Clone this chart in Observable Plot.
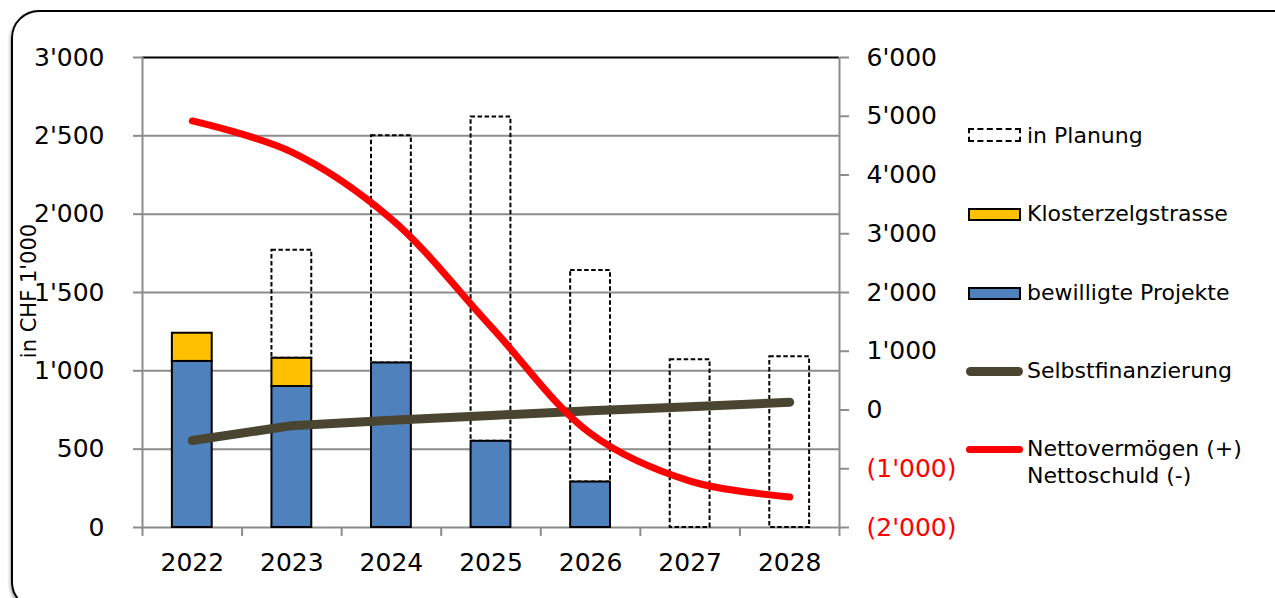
<!DOCTYPE html>
<html>
<head>
<meta charset="utf-8">
<script src="https://cdn.jsdelivr.net/npm/d3@7"></script>
<script src="https://cdn.jsdelivr.net/npm/@observablehq/plot@0.6"></script>
<style>
  html, body { margin: 0; padding: 0; background: #fff; overflow: hidden; }
  body { width: 1275px; height: 598px; position: relative; font-family: "DejaVu Sans", Verdana, sans-serif; }
  #frame { position: absolute; left: 11px; top: 10px; width: 1290px; height: 600px; border: 2px solid #000; border-radius: 28px; box-sizing: border-box; box-shadow: -1px 2px 3px rgba(0,0,0,0.35); }
  #chart { position: absolute; left: 0; top: 0; }
  #ylabel { position: absolute; left: 29px; top: 291px; transform: translate(-50%, -50%) rotate(-90deg); font-size: 21px; white-space: nowrap; color: #000; }
  .leg { position: absolute; left: 0; top: 0; font-size: 22px; color: #000; }
  .sw { position: absolute; box-sizing: border-box; }
  .lt { position: absolute; left: 1027px; white-space: nowrap; line-height: 27px; }
</style>
</head>
<body>
<div id="frame"></div>
<div id="chart"></div>
<div id="ylabel">in CHF 1'000</div>
<div class="leg">
  <div class="sw" style="left:968px;top:128px;width:53px;height:14px;border:2px dashed #000;background:#fff;"></div>
  <div class="lt" style="top:122px;">in Planung</div>
  <div class="sw" style="left:968px;top:208px;width:53px;height:13px;border:2px solid #000;background:#FFC000;"></div>
  <div class="lt" style="top:200px;">Klosterzelgstrasse</div>
  <div class="sw" style="left:968px;top:287px;width:53px;height:13px;border:2px solid #000;background:#4F81BD;"></div>
  <div class="lt" style="top:279px;">bewilligte Projekte</div>
  <div class="sw" style="left:966px;top:367px;width:57px;height:9px;border-radius:5px;background:#4A4530;"></div>
  <div class="lt" style="top:357px;">Selbstfinanzierung</div>
  <div class="sw" style="left:966px;top:446px;width:57px;height:7px;border-radius:4px;background:#FF0000;"></div>
  <div class="lt" style="top:435px;">Nettovermögen (+)<br>Nettoschuld (-)</div>
</div>
<script>
// ---- data ----
const years = [2022, 2023, 2024, 2025, 2026, 2027, 2028];
const bewilligt = [1060, 900, 1050, 550, 290, 0, 0];          // bewilligte Projekte
const kloster = [180, 180, 0, 0, 0, 0, 0];                    // Klosterzelgstrasse
const planung = [0, 690, 1450, 2070, 1350, 1070, 1090];       // in Planung (stacked on top)
const selbst = [555, 650, 685, 715, 745, 770, 800];           // Selbstfinanzierung (left axis)
const netto = [4920, 4390, 3250, 1420, -400, -1210, -1480];   // Nettovermögen/-schuld (right axis)
const leftTicks = [0, 500, 1000, 1500, 2000, 2500, 3000];
const rightTicks = [-2000, -1000, 0, 1000, 2000, 3000, 4000, 5000, 6000];

// ---- helpers ----
const loc = d3.formatLocale({decimal: ".", thousands: "'", grouping: [3], currency: ["", ""]});
const fmt = loc.format(",d");
const L = v => (v + 2000) * 3000 / 8000;           // right-axis value -> left-axis units
const R = p => Math.round(p * 8000 / 3000 - 2000); // inverse
const rfmt = p => { const v = R(p); return v < 0 ? "(" + fmt(-v) + ")" : fmt(v); };

const rows = years.map((year, i) => ({
  year, bew: bewilligt[i], klo: kloster[i], plan: planung[i], selbst: selbst[i], netto: netto[i]
}));
const bounds = years.map(y => y - 0.5).concat([years[years.length - 1] + 0.5]);
const hw = 0.2;

const chart = Plot.plot({
  width: 1275,
  height: 598,
  marginLeft: 142,
  marginRight: 436,
  marginTop: 57,
  marginBottom: 71,
  style: {fontFamily: "DejaVu Sans, Verdana, sans-serif", fontSize: "25px", background: "transparent", overflow: "visible"},
  x: {type: "linear", domain: [bounds[0], bounds[bounds.length - 1]]},
  y: {domain: [0, 3000]},
  marks: [
    Plot.ruleY(leftTicks.filter(t => t > 0 && t < 3000), {stroke: "#8c8c8c", strokeWidth: 2}),
    Plot.ruleY([3000], {stroke: "#000", strokeWidth: 2}),
    Plot.ruleY([0], {stroke: "#8c8c8c", strokeWidth: 2}),
    Plot.ruleX([bounds[0], bounds[bounds.length - 1]], {stroke: "#8c8c8c", strokeWidth: 2}),
    // in Planung (dashed outline)
    Plot.rectY(rows.filter(d => d.plan > 0), {
      x1: d => d.year - hw, x2: d => d.year + hw,
      y1: d => d.bew + d.klo, y2: d => d.bew + d.klo + d.plan,
      fill: "none", stroke: "#000", strokeWidth: 2, strokeDasharray: "4.5,2.5"
    }),
    // bewilligte Projekte
    Plot.rectY(rows.filter(d => d.bew > 0), {
      x1: d => d.year - hw, x2: d => d.year + hw, y1: 0, y2: d => d.bew,
      fill: "#4F81BD", stroke: "#000", strokeWidth: 2
    }),
    // Klosterzelgstrasse
    Plot.rectY(rows.filter(d => d.klo > 0), {
      x1: d => d.year - hw, x2: d => d.year + hw, y1: d => d.bew, y2: d => d.bew + d.klo,
      fill: "#FFC000", stroke: "#000", strokeWidth: 2
    }),
    // Selbstfinanzierung
    Plot.line(rows, {x: "year", y: "selbst", stroke: "#4A4530", strokeWidth: 9, strokeLinecap: "round", strokeLinejoin: "round"}),
    // Nettovermögen / Nettoschuld
    Plot.line(rows, {x: "year", y: d => L(d.netto), curve: "catmull-rom", stroke: "#FF0000", strokeWidth: 7, strokeLinecap: "round", strokeLinejoin: "round"}),
    // axes
    Plot.axisY({ticks: leftTicks, tickSize: 9, tickPadding: 29, stroke: "#8c8c8c", strokeWidth: 2, fill: "#000", tickFormat: fmt, label: null}),
    Plot.axisY({anchor: "right", ticks: rightTicks.filter(v => v >= 0).map(L), tickSize: 9, tickPadding: 18, stroke: "#8c8c8c", strokeWidth: 2, fill: "#000", tickFormat: rfmt, label: null}),
    Plot.axisY({anchor: "right", ticks: rightTicks.filter(v => v < 0).map(L), tickSize: 9, tickPadding: 18, stroke: "#8c8c8c", strokeWidth: 2, fill: "#FF0000", tickFormat: rfmt, label: null}),
    Plot.axisX({ticks: bounds, tickSize: 9, stroke: "#8c8c8c", strokeWidth: 2, tickFormat: () => "", label: null}),
    Plot.axisX({ticks: years, tickSize: 0, tickPadding: 26, fill: "#000", tickFormat: d => String(d), label: null})
  ]
});
document.getElementById("chart").appendChild(chart);
</script>
</body>
</html>
